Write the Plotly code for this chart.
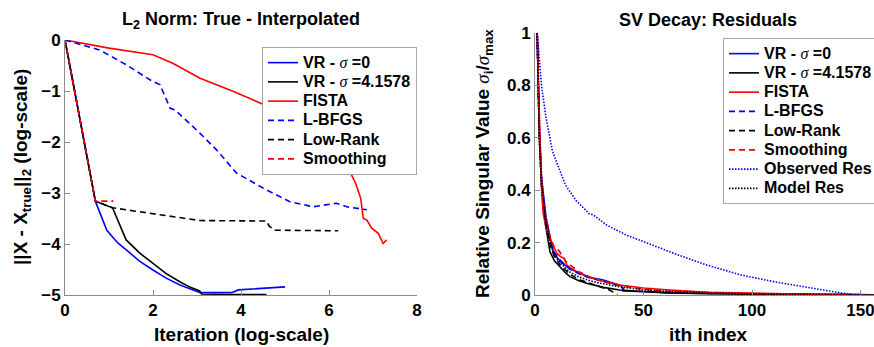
import plotly.graph_objects as go

# ---------------- Left panel data: L2 norm vs log iteration ----------------
vr0_x = [0, 0.69, 0.95, 1.2, 1.4, 1.7, 2.0, 2.3, 2.6, 2.85, 3.06, 3.4, 3.8, 3.94, 4.3, 4.6, 5.0]
vr0_y = [0, -3.16, -3.73, -3.98, -4.12, -4.34, -4.51, -4.67, -4.8, -4.89, -4.95, -4.95, -4.95, -4.9, -4.88, -4.86, -4.84]

vr4_x = [0, 0.69, 1.08, 1.39, 1.7, 2.0, 2.3, 2.61, 2.85, 3.06, 3.1, 3.8, 4.58]
vr4_y = [0, -3.16, -3.29, -3.92, -4.18, -4.38, -4.58, -4.74, -4.85, -4.92, -4.98, -4.99, -4.99]

fista_x = [0, 1.0, 2.0, 2.46, 3.07, 3.83, 4.58, 5.0, 5.5, 6.0, 6.44, 6.6, 6.72, 6.78, 6.86, 6.97, 7.12, 7.23, 7.31]
fista_y = [0, -0.16, -0.29, -0.46, -0.75, -1.01, -1.29, -1.55, -1.88, -2.2, -2.52, -2.8, -3.1, -3.5, -3.53, -3.69, -3.79, -3.99, -3.92]

lbfgs_x = [0, 0.8, 1.4, 1.93, 2.16, 2.27, 2.39, 2.5, 3.07, 3.45, 3.9, 4.58, 5.11, 5.64, 6.17, 6.4, 6.86]
lbfgs_y = [0, -0.2, -0.49, -0.78, -0.88, -1.11, -1.34, -1.37, -1.83, -2.16, -2.61, -2.94, -3.17, -3.27, -3.2, -3.27, -3.33]

lowrank_x = [0, 0.69, 1.08, 3.06, 4.58, 4.64, 4.77, 6.21]
lowrank_y = [0, -3.16, -3.29, -3.54, -3.55, -3.65, -3.73, -3.74]

smooth_x = [0, 0.69, 1.1]
smooth_y = [0, -3.16, -3.16]

# ---------------- Right panel data: singular value decay ----------------
sv_vr0_x = [1, 2, 3, 4, 5, 6.5, 8.4, 10, 12, 16, 20, 25, 31.5, 36, 40, 40.5, 50, 60, 80, 100, 130, 156]
sv_vr0_y = [1, 0.65, 0.45, 0.36, 0.3, 0.24, 0.165, 0.145, 0.125, 0.1, 0.085, 0.068, 0.057, 0.045, 0.035, 0.015, 0.012, 0.01, 0.006, 0.004, 0.002, 0.001]

sv_vr4_x = [1, 2, 3, 4, 5, 6.9, 9, 11.5, 14, 16.1, 20, 23.8, 31.5, 39, 50, 60, 80, 100, 130, 156]
sv_vr4_y = [1, 0.6, 0.42, 0.33, 0.26, 0.165, 0.13, 0.108, 0.085, 0.07, 0.055, 0.045, 0.029, 0.019, 0.012, 0.008, 0.005, 0.003, 0.001, 0.0]

sv_fista_x = [1, 1.5, 2.3, 3.1, 3.8, 5, 6, 7.7, 10, 12, 13.5, 14.6, 17, 20, 24, 30, 39, 50, 62, 80, 100, 120, 140, 156]
sv_fista_y = [1, 0.8, 0.6, 0.39, 0.31, 0.26, 0.23, 0.2, 0.16, 0.145, 0.14, 0.115, 0.1, 0.085, 0.07, 0.055, 0.038, 0.027, 0.019, 0.01, 0.006, 0.004, 0.002, 0.001]

sv_lbfgs_x = [1, 2, 3, 4, 5, 7, 9, 12, 16, 20, 25, 30, 36, 40, 41]
sv_lbfgs_y = [1, 0.62, 0.44, 0.35, 0.29, 0.21, 0.16, 0.13, 0.1, 0.082, 0.066, 0.055, 0.042, 0.033, 0.02]

sv_lowrank_x = [1, 2, 3, 4, 5, 7, 9, 12, 16, 20, 25, 30, 34, 38]
sv_lowrank_y = [1, 0.6, 0.42, 0.33, 0.27, 0.19, 0.145, 0.11, 0.08, 0.06, 0.045, 0.032, 0.02, 0.003]

sv_smooth_x = [1, 2, 3, 4, 5, 7, 9, 11, 14, 17, 20, 25, 30, 40, 50, 60, 80, 100, 120, 150, 156]
sv_smooth_y = [1, 0.62, 0.44, 0.35, 0.3, 0.22, 0.18, 0.17, 0.13, 0.11, 0.09, 0.07, 0.055, 0.035, 0.022, 0.015, 0.009, 0.005, 0.003, 0.001, 0.001]

sv_obs_x = [1, 2, 3, 5, 8, 14, 19, 25, 27, 33, 42, 48, 64, 79, 95, 110, 125, 140, 148, 156]
sv_obs_y = [1, 0.88, 0.8, 0.68, 0.55, 0.42, 0.36, 0.31, 0.305, 0.267, 0.229, 0.21, 0.159, 0.115, 0.076, 0.051, 0.029, 0.009, 0.0, 0.0]

sv_model_x = [1, 2, 3, 4, 5, 7, 9, 12, 16, 20, 25, 30, 40, 50, 60, 80, 100, 130, 156]
sv_model_y = [1, 0.6, 0.43, 0.34, 0.28, 0.2, 0.15, 0.12, 0.088, 0.07, 0.055, 0.045, 0.03, 0.02, 0.014, 0.008, 0.004, 0.002, 0.001]

left_xticks = [0, 2, 4, 6, 8]
left_yticks = [-5, -4, -3, -2, -1, 0]
right_xticks = [0, 50, 100, 150]
right_yticks = [0, 0.2, 0.4, 0.6, 0.8, 1]
right_yticklabels = ["0", "0.2", "0.4", "0.6", "0.8", "1"]

LEG_PX = 16


def seg(s):
    return f'<span style="font-size:{LEG_PX}px">{s}</span>'


def sig_seg():
    return (f"<i><span style=\"font-family:'Liberation Serif';font-weight:normal;"
            f"font-size:{LEG_PX}px\">σ</span></i>")


def vr_name(val):
    return seg("VR - ") + sig_seg() + seg(f" ={val}")


names = [vr_name("0"), vr_name("4.1578"), seg("FISTA"), seg("L-BFGS"), seg("Low-Rank"), seg("Smoothing")]

SIG = "<i><span style=\"font-family:'Liberation Serif';font-weight:normal\">σ</span></i>"

BLUE, BLACK, RED = "#0000ff", "#000000", "#ff0000"
DASH = "6px,4px"
DOT = "1.5px,1.5px"
W = 1.6

fig = go.Figure()

left = [
    (vr0_x, vr0_y, BLUE, "solid"),
    (vr4_x, vr4_y, BLACK, "solid"),
    (fista_x, fista_y, RED, "solid"),
    (lbfgs_x, lbfgs_y, BLUE, DASH),
    (lowrank_x, lowrank_y, BLACK, DASH),
    (smooth_x, smooth_y, RED, DASH),
]
for (x, y, c, d), n in zip(left, names):
    fig.add_trace(go.Scatter(x=x, y=y, mode="lines", name=n, xaxis="x", yaxis="y",
                             line=dict(color=c, width=W, dash=d), legend="legend"))

right = [
    (sv_vr0_x, sv_vr0_y, BLUE, "solid", names[0]),
    (sv_vr4_x, sv_vr4_y, BLACK, "solid", names[1]),
    (sv_fista_x, sv_fista_y, RED, "solid", names[2]),
    (sv_lbfgs_x, sv_lbfgs_y, BLUE, DASH, names[3]),
    (sv_lowrank_x, sv_lowrank_y, BLACK, DASH, names[4]),
    (sv_smooth_x, sv_smooth_y, RED, DASH, names[5]),
    (sv_obs_x, sv_obs_y, BLUE, DOT, seg("Observed Res")),
    (sv_model_x, sv_model_y, BLACK, DOT, seg("Model Res")),
]
for x, y, c, d, n in right:
    fig.add_trace(go.Scatter(x=x, y=y, mode="lines", name=n, xaxis="x2", yaxis="y2",
                             line=dict(color=c, width=W, dash=d), legend="legend2"))

FONT = "Liberation Sans, Arial, Helvetica, sans-serif"
AX = "#8c8c8c"
H, Wd = 347, 874


def ax_common(**kw):
    d = dict(showgrid=False, zeroline=False, showline=True, linecolor=AX, linewidth=1,
             ticks="inside", ticklen=5, tickcolor=AX, mirror=False, ticklabeloverflow="allow",
             tickfont=dict(family=FONT, size=17, color="black", weight="bold"))
    d.update(kw)
    return d


legend_common = dict(xanchor="left", yanchor="top", bgcolor="white", bordercolor="#a6a6a6",
                     borderwidth=1, font=dict(family=FONT, size=12.5, color="black", weight="bold"),
                     itemwidth=30, tracegroupgap=0)

fig.update_layout(
    width=Wd, height=H, template="none",
    margin=dict(l=0, r=0, t=0, b=0, autoexpand=False),
    paper_bgcolor="white", plot_bgcolor="white",
    font=dict(family=FONT, color="black", weight="bold"),
    xaxis=ax_common(domain=[65 / Wd, 417 / Wd], range=[0, 8], tickvals=left_xticks, anchor="y"),
    yaxis=ax_common(domain=[(H - 295) / H, (H - 40) / H], range=[-5, 0], tickvals=left_yticks, anchor="x"),
    xaxis2=ax_common(domain=[535 / Wd, 1.0], range=[0, 156.2], tickvals=right_xticks, anchor="y2"),
    yaxis2=ax_common(domain=[(H - 295) / H, (H - 33) / H], range=[0, 1], tickvals=right_yticks,
                     ticktext=right_yticklabels, anchor="x2"),
    legend=dict(x=262 / Wd, y=1 - 47 / H, **legend_common),
    legend2=dict(x=723 / Wd, y=1 - 38 / H, **legend_common),
    showlegend=True,
)

ann = [
    dict(text="L<sub>2</sub> Norm: True - Interpolated", x=241, y=20, size=18, angle=0),
    dict(text="SV Decay: Residuals", x=708, y=20, size=18, angle=0),
    dict(text="Iteration (log-scale)", x=241, y=334, size=19, angle=0),
    dict(text="ith index", x=708, y=334, size=19, angle=0),
    dict(text="||X - X<sub>true</sub>||<sub>2</sub> (log-scale)", x=22, y=167, size=19, angle=-90),
    dict(text=f"Relative Singular Value {SIG}<sub>i</sub>/{SIG}<sub>max</sub>", x=484, y=164, size=19, angle=-90),
]
for a in ann:
    fig.add_annotation(text=a["text"], x=a["x"] / Wd, y=1 - a["y"] / H, xref="paper", yref="paper",
                       showarrow=False, xanchor="center", yanchor="middle", textangle=a["angle"],
                       font=dict(family=FONT, size=a["size"], color="black", weight="bold"))

fig.write_html("out.html")
